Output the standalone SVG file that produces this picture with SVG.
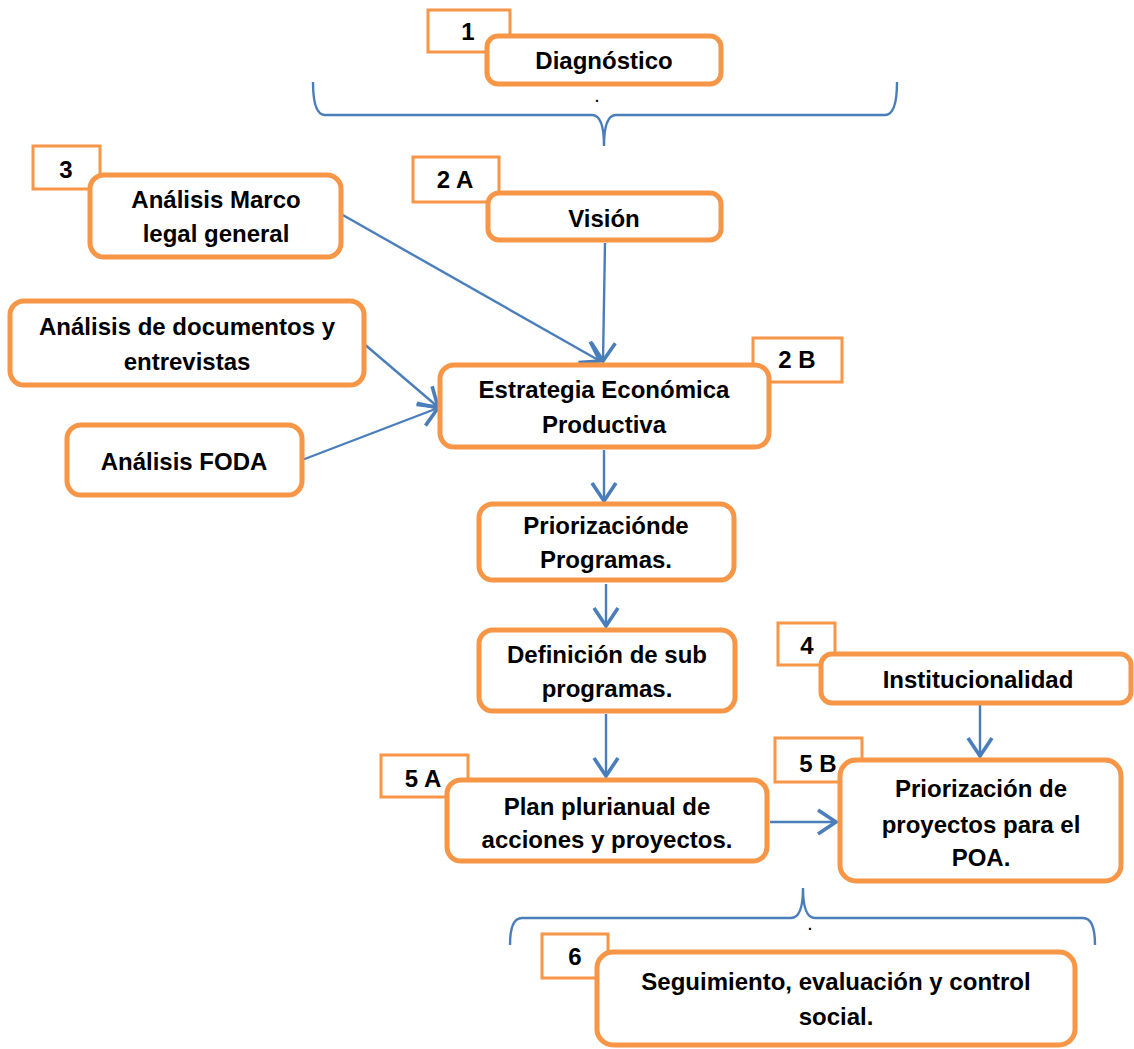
<svg xmlns="http://www.w3.org/2000/svg" width="1134" height="1049" viewBox="0 0 1134 1049">
<style>
.box{fill:#fff;stroke:#F79646;stroke-width:5}
.tag{fill:#fff;stroke:#F79646;stroke-width:3}
.t{font-family:"Liberation Sans",Arial,sans-serif;font-weight:bold;font-size:24px;fill:#000;text-anchor:middle}
.c{fill:none;stroke:#4A7EBB;stroke-width:2.4}
</style>
<defs>
<marker id="ah" markerUnits="userSpaceOnUse" markerWidth="30" markerHeight="30" refX="0" refY="0" viewBox="-14 -10 16 20" orient="auto" overflow="visible">
<path d="M-12,-8 L0,0 L-12,8" fill="none" stroke="#4A7EBB" stroke-width="2.4"/>
</marker>
</defs>
<g id="connectors">
<path class="c" d="M313,82 Q313,115 325,115 L592,115 Q604,115 604,146 Q604,115 616,115 L885,115 Q897,115 897,82"/>
<path class="c" d="M510,945 Q510,918 522,918 L791,918 Q803,918 803,888 Q803,918 815,918 L1083,918 Q1095,918 1095,945"/>
<line class="c" x1="341" y1="214" x2="600" y2="361" marker-end="url(#ah)"/>
<line class="c" x1="605" y1="243" x2="603" y2="361" marker-end="url(#ah)"/>
<line class="c" x1="363" y1="343" x2="438" y2="407" marker-end="url(#ah)"/>
<line class="c" x1="302" y1="460" x2="438" y2="408" marker-end="url(#ah)"/>
<line class="c" x1="604" y1="450" x2="604" y2="501" marker-end="url(#ah)"/>
<line class="c" x1="606" y1="584" x2="606" y2="626" marker-end="url(#ah)"/>
<line class="c" x1="606" y1="714" x2="606" y2="776" marker-end="url(#ah)"/>
<line class="c" x1="980" y1="705" x2="980" y2="756" marker-end="url(#ah)"/>
<line class="c" x1="770" y1="822" x2="836" y2="822" marker-end="url(#ah)"/>
</g>
<text class="t" x="597" y="102" style="font-size:14px">.</text>
<text class="t" x="810" y="930" style="font-size:14px">.</text>
<g id="n1">
<rect class="tag" x="428" y="10" width="82" height="42"/>
<text class="t" x="468" y="40">1</text>
<rect class="box" x="487" y="36" width="234" height="48" rx="11"/>
<text class="t" x="604" y="69">Diagnóstico</text>
</g>
<g id="n2a">
<rect class="tag" x="413" y="157" width="86" height="45"/>
<text class="t" x="455" y="188">2 A</text>
<rect class="box" x="488" y="193" width="233" height="47" rx="11"/>
<text class="t" x="604" y="227">Visión</text>
</g>
<g id="n3">
<rect class="tag" x="33" y="146" width="67" height="43"/>
<text class="t" x="66" y="178">3</text>
<rect class="box" x="90" y="175" width="251" height="82" rx="14"/>
<text class="t" x="216" y="208">Análisis Marco</text>
<text class="t" x="216" y="242">legal general</text>
</g>
<g id="ndoc">
<rect class="box" x="10" y="301" width="354" height="84" rx="14"/>
<text class="t" x="187" y="335">Análisis de documentos y</text>
<text class="t" x="187" y="370">entrevistas</text>
</g>
<g id="nfoda">
<rect class="box" x="67" y="425" width="235" height="70" rx="14"/>
<text class="t" x="184" y="470">Análisis FODA</text>
</g>
<g id="n2b">
<rect class="tag" x="753" y="338" width="89" height="44"/>
<text class="t" x="797" y="368">2 B</text>
<rect class="box" x="440" y="365" width="329" height="82" rx="14"/>
<text class="t" x="604" y="398">Estrategia Económica</text>
<text class="t" x="604" y="433">Productiva</text>
</g>
<g id="nprog">
<rect class="box" x="479" y="504" width="255" height="76" rx="14"/>
<text class="t" x="606" y="534">Priorizaciónde</text>
<text class="t" x="606" y="568">Programas.</text>
</g>
<g id="nsub">
<rect class="box" x="479" y="630" width="256" height="81" rx="14"/>
<text class="t" x="607" y="663">Definición de sub</text>
<text class="t" x="607" y="697">programas.</text>
</g>
<g id="n4">
<rect class="tag" x="778" y="623" width="57" height="42"/>
<text class="t" x="807" y="654">4</text>
<rect class="box" x="821" y="654" width="310" height="49" rx="11"/>
<text class="t" x="978" y="688">Institucionalidad</text>
</g>
<g id="n5a">
<rect class="tag" x="381" y="755" width="87" height="42"/>
<text class="t" x="423" y="787">5 A</text>
<rect class="box" x="447" y="780" width="320" height="81" rx="14"/>
<text class="t" x="607" y="815">Plan plurianual de</text>
<text class="t" x="607" y="848">acciones y proyectos.</text>
</g>
<g id="n5b">
<rect class="tag" x="775" y="738" width="87" height="44"/>
<text class="t" x="818" y="772">5 B</text>
<rect class="box" x="840" y="760" width="281" height="121" rx="16"/>
<text class="t" x="981" y="797">Priorización de</text>
<text class="t" x="981" y="833">proyectos para el</text>
<text class="t" x="981" y="866">POA.</text>
</g>
<g id="n6">
<rect class="tag" x="542" y="934" width="66" height="44"/>
<text class="t" x="575" y="965">6</text>
<rect class="box" x="597" y="952" width="478" height="93" rx="16"/>
<text class="t" x="836" y="990">Seguimiento, evaluación y control</text>
<text class="t" x="836" y="1025">social.</text>
</g>
</svg>
